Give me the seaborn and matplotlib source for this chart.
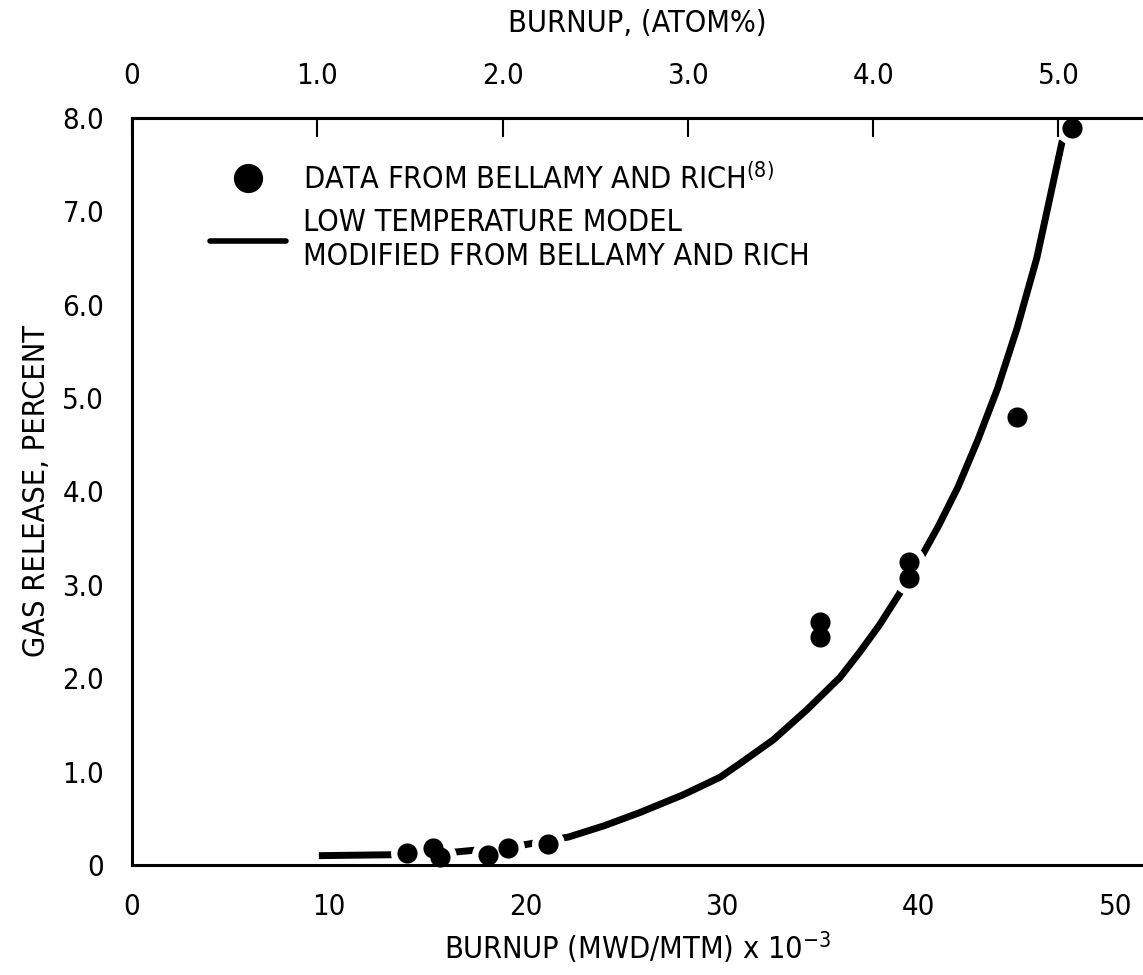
import matplotlib
matplotlib.use("Agg")
import matplotlib.pyplot as plt
from matplotlib.lines import Line2D
import seaborn as sns
import pandas as pd

# ---- data ----
burnup_pts = [14.0, 15.3, 15.65, 18.1, 19.1, 21.15, 35.0, 35.0, 39.5, 39.5, 45.0, 47.8]
release_pts = [0.13, 0.18, 0.09, 0.11, 0.18, 0.22, 2.60, 2.44, 3.24, 3.07, 4.80, 7.89]

model_burnup = [9.5, 13.2, 16.5, 19.5, 22.2, 24.0, 25.8, 28.0, 29.9, 31.0, 32.6, 34.3,
                36.0, 37.0, 38.0, 39.0, 40.0, 41.0, 42.0, 43.0, 44.0, 45.0, 46.0, 47.3]
model_release = [0.10, 0.11, 0.14, 0.20, 0.30, 0.42, 0.56, 0.75, 0.94, 1.10, 1.34, 1.66,
                 2.01, 2.28, 2.57, 2.90, 3.25, 3.63, 4.05, 4.55, 5.10, 5.75, 6.50, 7.76]

bottom_ticks = [0, 10, 20, 30, 40, 50]
top_ticks = [0, 1.0, 2.0, 3.0, 4.0, 5.0]
top_labels = ["0", "1.0", "2.0", "3.0", "4.0", "5.0"]
y_ticks = [0, 1, 2, 3, 4, 5, 6, 7, 8]
y_labels = ["0", "1.0", "2.0", "3.0", "4.0", "5.0", "6.0", "7.0", "8.0"]
MWD_PER_ATOM = 9.42

legend_labels = [r"DATA FROM BELLAMY AND RICH$^{\mathregular{(8)}}$",
                 "LOW TEMPERATURE MODEL\nMODIFIED FROM BELLAMY AND RICH"]

# ---- style ----
sns.set_theme(style="white")
plt.rcParams["font.family"] = ["DejaVu Sans"]
plt.rcParams["font.stretch"] = "condensed"
plt.rcParams["mathtext.fontset"] = "custom"
plt.rcParams["mathtext.rm"] = "DejaVu Sans:stretch=condensed"
for k in ["text.color", "axes.labelcolor", "xtick.color", "ytick.color", "axes.edgecolor"]:
    plt.rcParams[k] = "black"

fig = plt.figure(figsize=(11.43, 9.75), dpi=100)
ax = fig.add_axes([132 / 1143, 1 - 865 / 975, 1 - 132 / 1143, (865 - 118) / 975])

pts = pd.DataFrame({"burnup": burnup_pts, "release": release_pts})
model = pd.DataFrame({"burnup": model_burnup, "release": model_release})

sns.lineplot(data=model, x="burnup", y="release", sort=False, color="black",
             linewidth=5, ax=ax, zorder=2, solid_capstyle="butt")
# white halo so the curve breaks around the points
sns.scatterplot(data=pts, x="burnup", y="release", color="white", s=560,
                linewidth=0, ax=ax, zorder=2.2)
sns.scatterplot(data=pts, x="burnup", y="release", color="black", s=210,
                linewidth=0, ax=ax, zorder=4, clip_on=False)

ax.set_xlim(0, 51.4)
ax.set_ylim(0, 8)
ax.set_xticks(bottom_ticks)
ax.set_xticklabels([str(t) for t in bottom_ticks])
ax.set_yticks(y_ticks)
ax.set_yticklabels(y_labels)

for s in ["left", "bottom", "top"]:
    ax.spines[s].set_linewidth(2.2)
    ax.spines[s].set_color("black")
    ax.spines[s].set_zorder(3)
ax.spines["right"].set_visible(False)

ax.tick_params(axis="x", direction="in", length=14, width=1.5, colors="black",
               labelsize=21, pad=20)
ax.tick_params(axis="y", direction="in", length=6, width=1.5, colors="black",
               labelsize=21, pad=20)

ax.set_xlabel(r"BURNUP (MWD/MTM) x 10$^{\mathregular{-3}}$", fontsize=22, labelpad=6)
ax.set_ylabel("GAS RELEASE, PERCENT", fontsize=22, labelpad=8)

sec = ax.secondary_xaxis("top", functions=(lambda x: x / MWD_PER_ATOM,
                                            lambda a: a * MWD_PER_ATOM))
sec.set_zorder(3.5)
sec.set_xticks(top_ticks)
sec.set_xticklabels(top_labels)
sec.tick_params(direction="in", length=14, width=1.5, colors="black",
                labelsize=21, pad=20)
sec.set_xlabel("BURNUP, (ATOM%)", fontsize=22, labelpad=22)
sec.spines["top"].set_linewidth(2.2)
sec.spines["top"].set_color("black")

handles = [Line2D([], [], marker="o", color="black", linestyle="none", markersize=20),
           Line2D([], [], color="black", linewidth=4)]
ax.legend(handles, legend_labels, loc="upper left", bbox_to_anchor=(0.05, 0.977),
          frameon=False, fontsize=22, handlelength=2.5, handletextpad=0.55,
          labelspacing=0.45)

fig.savefig("out.png", dpi=100, facecolor="white")
